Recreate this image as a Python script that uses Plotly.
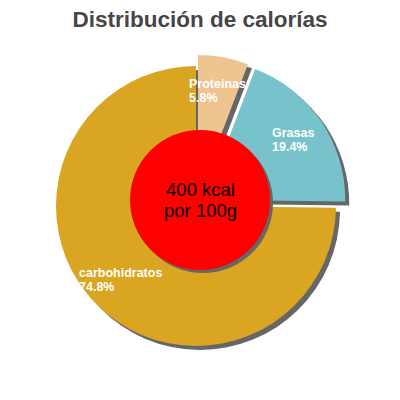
import math
import plotly.graph_objects as go

# Data
labels = ["Proteínas", "Grasas", "carbohidratos"]
values = [5.8, 19.4, 74.8]
colors = ["#EEC591", "#78C3CB", "#DAA520"]
pulls = [0.08, 0.08, 0.0]
title = "Distribución de calorías"
center_lines = ["400 kcal", "por 100g"]

W = H = 400
OFF = 8                              # page body margin of the html page
cx, cy, R = 196, 206, 140            # pie centre / radius in screen px
maxpull = max(pulls)
half = R * (1 + maxpull)
shadow = 4
FONT = "Liberation Sans, Arial, sans-serif"

def fx(x):
    return (x - OFF) / W

def fy(y):
    return 1 - (y - OFF) / H

def dom(dx=0, dy=0):
    return dict(x=[fx(cx - half + dx), fx(cx + half + dx)],
                y=[fy(cy + half + dy), fy(cy - half + dy)])

def tight(lines, size, spacing, bold=False):
    # base font sets the line spacing (1.3em), spans set the visible size
    parts = []
    for s in lines:
        s = f"<b>{s}</b>" if bold else s
        parts.append(f"<span style='font-size:{size}px'>{s}</span>")
    return "<br>".join(parts), spacing / 1.3

fig = go.Figure()
fig.add_trace(go.Pie(labels=labels, values=values, sort=False, direction="clockwise",
                     rotation=0, pull=pulls, domain=dom(shadow, shadow),
                     marker=dict(colors=["#666666"] * 3), textinfo="none",
                     hoverinfo="skip", showlegend=False))
fig.add_trace(go.Pie(labels=labels, values=values, sort=False, direction="clockwise",
                     rotation=0, pull=pulls, domain=dom(),
                     marker=dict(colors=colors), textinfo="none",
                     showlegend=False))

# slice labels
total = sum(values)
acc = 0
annotations = []
for lab, v, p in zip(labels, values, pulls):
    mid = math.radians(90 - (acc + v / 2) / total * 360)
    acc += v
    rr = R * (0.755 + p)
    bx = cx + rr * math.cos(mid)
    by = cy - rr * math.sin(mid)
    txt, base = tight([lab, f"{v:.1f}%"], 12.5, 14, bold=True)
    annotations.append(dict(x=fx(bx), y=fy(by), xref="paper", yref="paper",
                            text=txt, showarrow=False, xanchor="center", yanchor="middle",
                            align="left", font=dict(family=FONT, size=base, color="white")))

ccx, ccy, cr = 200, 200, 70
txt, base = tight(center_lines, 18.5, 21)
annotations.append(dict(x=fx(ccx), y=fy(ccy), xref="paper", yref="paper", text=txt,
                        showarrow=False, xanchor="center", yanchor="middle",
                        font=dict(family=FONT, size=base, color="black")))

shapes = [
    dict(type="circle", xref="paper", yref="paper", x0=fx(ccx - cr + 3), x1=fx(ccx + cr + 3),
         y0=fy(ccy + cr + 3), y1=fy(ccy - cr + 3), fillcolor="#666666", line_width=0, layer="above"),
    dict(type="circle", xref="paper", yref="paper", x0=fx(ccx - cr), x1=fx(ccx + cr),
         y0=fy(ccy + cr), y1=fy(ccy - cr), fillcolor="#FF0000", line_width=0, layer="above"),
]

fig.update_layout(
    width=W, height=H, margin=dict(l=0, r=0, t=0, b=0),
    paper_bgcolor="white", plot_bgcolor="white",
    title=dict(text=f"<b>{title}</b>", x=fx(200), xanchor="center", y=fy(19), yanchor="middle",
               font=dict(family=FONT, size=22.5, color="#464646")),
    shapes=shapes, annotations=annotations,
)
fig.write_html("out.html")
